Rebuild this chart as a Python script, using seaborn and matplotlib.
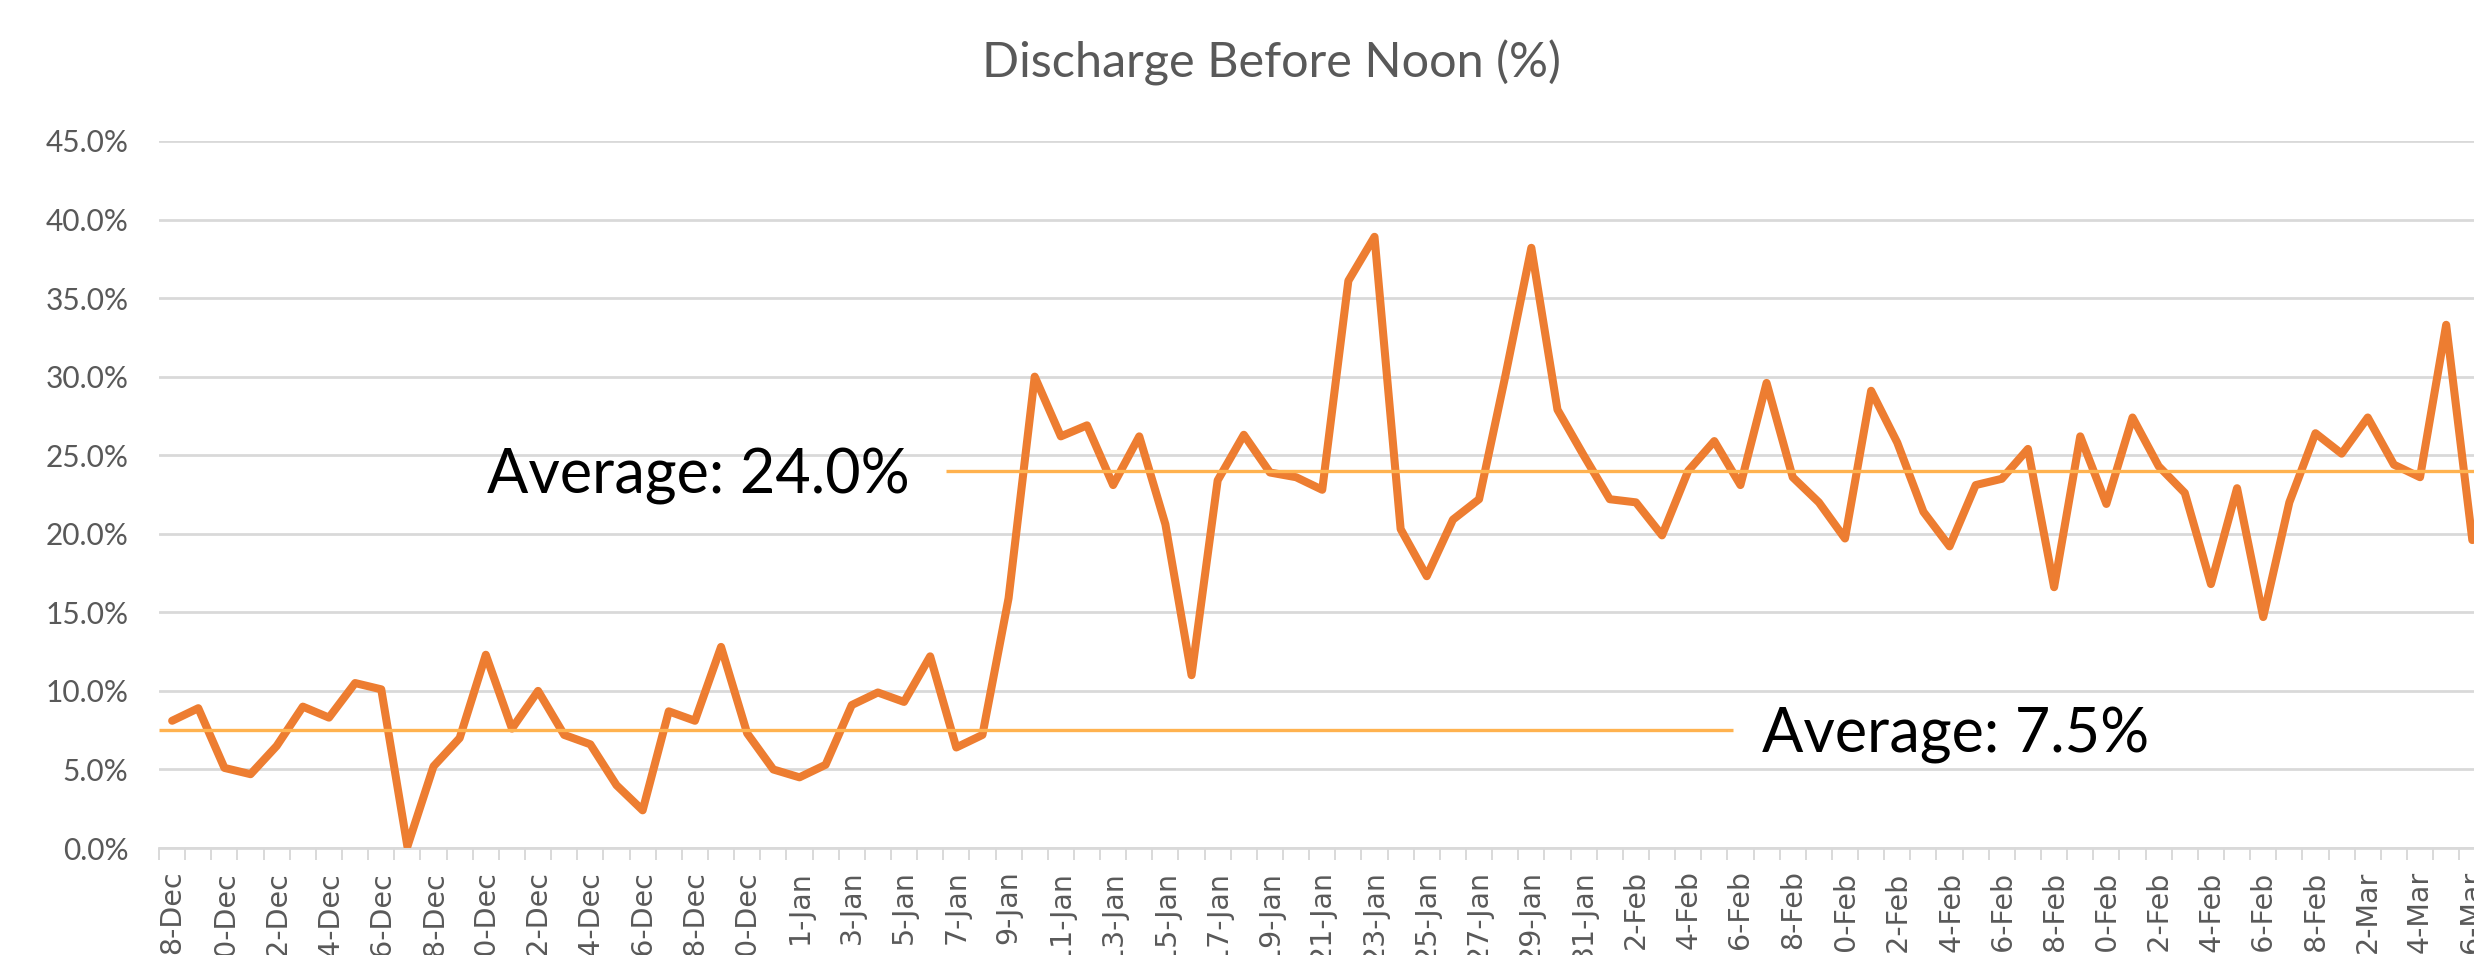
import numpy as np
import pandas as pd
import matplotlib
matplotlib.use("Agg")
import matplotlib.pyplot as plt
from matplotlib.ticker import PercentFormatter, FixedLocator
import seaborn as sns

# ---- data -------------------------------------------------------------
dates = pd.date_range("2017-12-08", "2018-03-06", freq="D")
date_labels = [f"{d.day}-{d.strftime('%b')}" for d in dates]

discharge_pct = [
    8.1, 8.9, 5.1, 4.7, 6.5, 9.0, 8.3, 10.5, 10.1, 0.1,      # 8-17 Dec
    5.2, 7.0, 12.3, 7.6, 10.0, 7.2, 6.6, 4.0, 2.4, 8.7,      # 18-27 Dec
    8.1, 12.8, 7.3, 5.0, 4.5, 5.3, 9.1, 9.9, 9.3, 12.2,      # 28 Dec - 6 Jan
    6.4, 7.2, 15.9, 30.0, 26.2, 26.9, 23.1, 26.2, 20.6, 11.0, # 7-16 Jan
    23.4, 26.3, 23.9, 23.6, 22.8, 36.1, 38.9, 20.3, 17.3, 20.9, # 17-26 Jan
    22.2, 30.0, 38.2, 27.9, 25.0, 22.2, 22.0, 19.9, 24.0, 25.9, # 27 Jan - 5 Feb
    23.1, 29.6, 23.6, 22.0, 19.7, 29.1, 25.8, 21.4, 19.2, 23.1, # 6-15 Feb
    23.5, 25.4, 16.6, 26.2, 21.9, 27.4, 24.3, 22.6, 16.8, 22.9, # 16-25 Feb
    14.7, 22.0, 26.4, 25.1, 27.4, 24.4, 23.6, 33.3, 19.6,       # 26 Feb - 6 Mar
]

avg_values = [7.5, 24.0]
avg_labels = ["Average: 7.5%", "Average: 24.0%"]
# spans of the average lines in category units (start, end)
avg_spans = [(-0.5, 59.7), (29.6, 88.5)]

y_ticks = [0, 5, 10, 15, 20, 25, 30, 35, 40, 45]
title = "Discharge Before Noon (%)"

# ---- style ------------------------------------------------------------
sns.set_theme(style="white")
plt.rcParams["font.family"] = ["Lato", "DejaVu Sans"]

LINE = "#ED7D31"
AVG = "#FFB24F"
GRID = "#D9D9D9"
TXT = "#595959"

fig = plt.figure(figsize=(24.74, 9.55), dpi=100)
ax = fig.add_axes([0.0643, 0.1120, 0.9403, 0.7404])

df = pd.DataFrame({"idx": np.arange(len(discharge_pct)), "pct": discharge_pct})
sns.lineplot(data=df, x="idx", y="pct", ax=ax, color=LINE, linewidth=5.8,
             solid_joinstyle="round", solid_capstyle="round", zorder=3)

for val, (x0, x1) in zip(avg_values, avg_spans):
    ax.hlines(val, x0, x1, colors=AVG, linewidth=2.4, zorder=4)

# labels of the average lines
ax.annotate(avg_labels[1], xy=(avg_spans[1][0], avg_values[1]),
            xytext=(-26, -16), textcoords="offset points",
            ha="right", va="baseline", fontsize=44, color="black", zorder=5)
ax.annotate(avg_labels[0], xy=(avg_spans[0][1], avg_values[0]),
            xytext=(21, -16), textcoords="offset points",
            ha="left", va="baseline", fontsize=44, color="black", zorder=5)

# axes
ax.set_xlim(-0.5, len(discharge_pct) - 0.5)
ax.set_ylim(0, 45)
ax.set_yticks(y_ticks)
ax.yaxis.set_major_formatter(PercentFormatter(decimals=1))
ax.grid(axis="y", color=GRID, linewidth=2.0)
ax.grid(axis="x", visible=False)
ax.set_axisbelow(True)

major_pos = list(range(0, len(date_labels), 2))
ax.set_xticks(major_pos)
ax.set_xticklabels([date_labels[i] for i in major_pos], rotation=90,
                   ha="center", va="top", family=["DejaVu Sans"])
ax.xaxis.set_minor_locator(FixedLocator(np.arange(-0.5, len(discharge_pct), 1.0)))
ax.tick_params(axis="x", which="major", length=0, pad=16, labelsize=20.5,
               labelcolor=TXT)
ax.tick_params(axis="x", which="minor", length=8.5, width=1.4, color=GRID,
               direction="out", bottom=True)
ax.tick_params(axis="y", which="major", length=0, pad=22, labelsize=21.5,
               labelcolor=TXT)

for s in ["left", "right", "top"]:
    ax.spines[s].set_visible(False)
ax.spines["bottom"].set_color(GRID)
ax.spines["bottom"].set_linewidth(2.0)
ax.set_xlabel("")
ax.set_ylabel("")

fig.text(0.514, 0.934, title, ha="center", va="center", fontsize=35, color=TXT)

fig.savefig("out.png", dpi=100, facecolor="white")
